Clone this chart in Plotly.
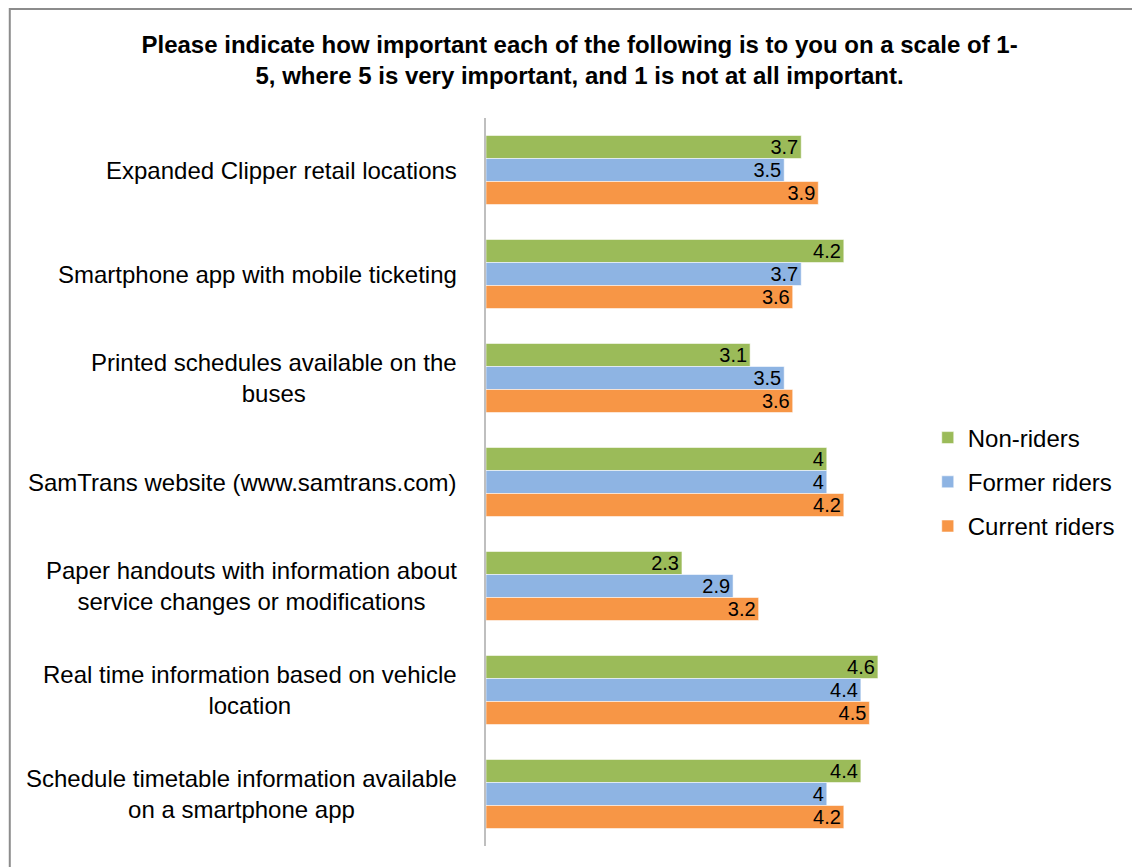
import plotly.graph_objects as go

# Survey items (top to bottom) and mean importance ratings per rider group
categories = [
    "Expanded Clipper retail locations",
    "Smartphone app with mobile ticketing",
    "Printed schedules available on the<br>buses",
    "SamTrans website (www.samtrans.com)",
    "Paper handouts with information about<br>service changes or modifications",
    "Real time information based on vehicle<br>location",
    "Schedule timetable information available<br>on a smartphone app",
]
non_riders = [3.7, 4.2, 3.1, 4, 2.3, 4.6, 4.4]
former_riders = [3.5, 3.7, 3.5, 4, 2.9, 4.4, 4]
current_riders = [3.9, 3.6, 3.6, 4.2, 3.2, 4.5, 4.2]

series = [
    ("Non-riders", non_riders, "#9BBB59"),
    ("Former riders", former_riders, "#8EB4E3"),
    ("Current riders", current_riders, "#F79646"),
]

FONT = "Liberation Sans, Arial, sans-serif"

fig = go.Figure()
for name, vals, color in series:
    fig.add_trace(go.Bar(
        y=categories,
        x=vals,
        name=name,
        orientation="h",
        legendgroup=name,
        marker=dict(color=color, line=dict(color="rgba(255,255,255,0.55)", width=1)),
        text=[f"{v:g}" for v in vals],
        textposition="inside",
        insidetextanchor="end",
        textangle=0,
        constraintext="none",
        textfont=dict(family=FONT, size=20, color="black"),
        hoverinfo="skip",
    ))

# Category labels, right-aligned against the axis with centred multi-line text
for cat in categories:
    fig.add_annotation(
        x=0, xref="paper", y=cat, yref="y",
        text=cat, showarrow=False, xanchor="right", yanchor="middle",
        align="center", xshift=-27,
        font=dict(family=FONT, size=24, color="black"),
    )

# Outer chart frame
fig.add_shape(
    type="rect", xref="paper", yref="paper",
    x0=-1.1179, x1=1.6, y0=-0.1, y1=1.1497,
    line=dict(color="#8C8C8C", width=2), fillcolor="rgba(0,0,0,0)", layer="below",
)

fig.update_layout(
    width=1132, height=867,
    margin=dict(l=486, r=217.5, t=118, b=21),
    paper_bgcolor="white", plot_bgcolor="white",
    barmode="group", bargap=0.336, bargroupgap=0,
    font=dict(family=FONT, size=24, color="black"),
    title=dict(
        text="<b>Please indicate how important each of the following is to you on a scale of 1-<br>5, where 5 is very important, and 1 is not at all important.</b>",
        x=0.512, xref="container", xanchor="center",
        y=1 - 53 / 867, yref="container", yanchor="middle",
        font=dict(family=FONT, size=24, color="black"),
    ),
    legend=dict(
        x=1.037, xanchor="left", y=0.5, yanchor="middle",
        tracegroupgap=10, font=dict(family=FONT, size=24, color="black"),
        bgcolor="rgba(0,0,0,0)",
    ),
    showlegend=True,
)
fig.update_xaxes(range=[0, 5], showticklabels=False, showgrid=False, zeroline=False, showline=False)
fig.update_yaxes(
    autorange="reversed", showticklabels=False, showgrid=False, zeroline=False,
    showline=True, linecolor="#BFBFBF", linewidth=2, ticks="",
)

fig.write_html("out.html")
